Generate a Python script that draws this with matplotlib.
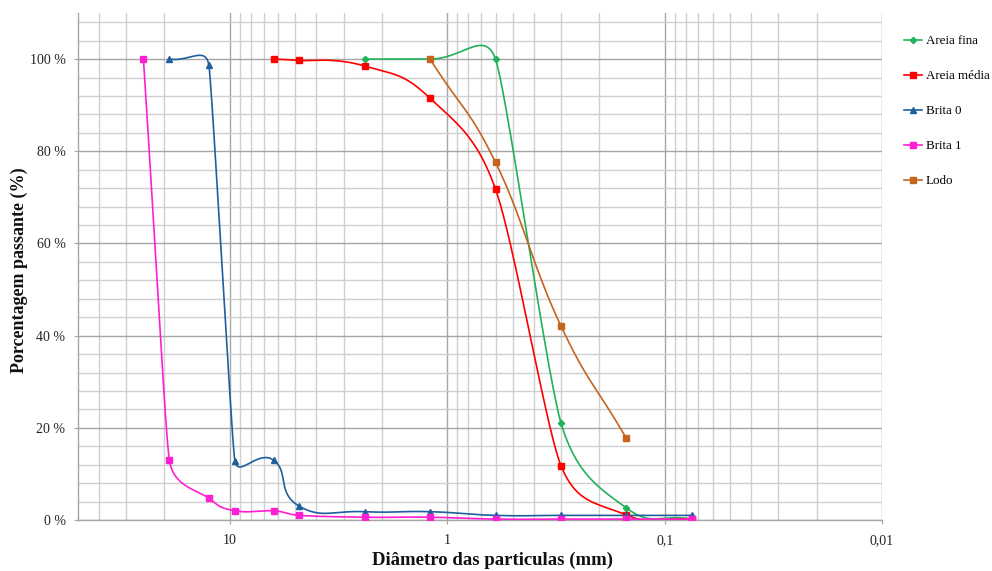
import numpy as np
import matplotlib
matplotlib.use("Agg")
import matplotlib.pyplot as plt
from matplotlib.ticker import FixedLocator, NullFormatter

# ---------------- data ----------------
sieves = [25, 19, 12.5, 9.5, 6.3, 4.8, 2.4, 1.2, 0.6, 0.3, 0.15, 0.075]

areia_fina_x = [2.4, 1.2, 0.6, 0.3, 0.15, 0.075]
areia_fina_y = [100, 100, 100, 21.1, 2.6, 0.2]

areia_media_x = [6.3, 4.8, 2.4, 1.2, 0.6, 0.3, 0.15, 0.075]
areia_media_y = [100, 99.7, 98.5, 91.5, 71.8, 11.8, 1.1, 0.2]

brita0_x = [19, 12.5, 9.5, 6.3, 4.8, 2.4, 1.2, 0.6, 0.3, 0.15, 0.075]
brita0_y = [100, 98.7, 12.9, 13.0, 3.0, 1.8, 1.8, 1.0, 1.0, 1.0, 1.0]

brita1_x = sieves
brita1_y = [100, 13.0, 4.7, 2.0, 2.0, 1.0, 0.6, 0.6, 0.2, 0.2, 0.2, 0.2]

lodo_x = [1.2, 0.6, 0.3, 0.15]
lodo_y = [100, 77.6, 42.1, 17.7]

series_names = ["Areia fina", "Areia média", "Brita 0", "Brita 1", "Lodo"]
xticks_vals = [10, 1, 0.1, 0.01]
xtick_labels = ["10", "1", "0,1", "0,01"]
yticks_vals = [0, 20, 40, 60, 80, 100]
ytick_labels = ["0 %", "20 %", "40 %", "60 %", "80 %", "100 %"]

# ---------------- figure ----------------
plt.rcParams['font.family'] = ['Liberation Serif', 'DejaVu Serif']
fig = plt.figure(figsize=(9.92, 5.71), dpi=100)
W, H = 992, 571
ax = fig.add_axes([78 / W, 1 - 520 / H, (882 - 78) / W, (520 - 13) / H])
ax.set_xscale('log')
ax.set_xlim(50, 0.01)
ax.set_ylim(0, 110)

# grid
minor_x = []
for dec in [0.01, 0.1, 1, 10]:
    for m in range(2, 10):
        v = dec * m
        if v < 50:
            minor_x.append(v)
ax.xaxis.set_major_locator(FixedLocator(xticks_vals))
ax.xaxis.set_minor_locator(FixedLocator(minor_x))
ax.set_xticks(xticks_vals)
ax.set_xticklabels(xtick_labels)
ax.xaxis.set_minor_formatter(NullFormatter())
ax.set_yticks(yticks_vals)
ax.set_yticklabels(ytick_labels)
ax.yaxis.set_minor_locator(FixedLocator([v for v in range(4, 110, 4) if v % 20 != 0]))

ax.grid(True, which='major', color='#A6A6A6', linewidth=1.0, zorder=0)
ax.grid(True, which='minor', color='#D0D0D0', linewidth=1.0, zorder=0)
ax.set_axisbelow(True)
for s in ['top', 'right']:
    ax.spines[s].set_visible(False)
for s in ['left', 'bottom']:
    ax.spines[s].set_color('#A6A6A6')
    ax.spines[s].set_linewidth(1.0)
ax.tick_params(axis='both', which='major', length=3, color='#A6A6A6',
               labelsize=10, labelcolor='#222222')
ax.tick_params(axis='x', which='major', pad=7)
ax.tick_params(axis='y', which='major', pad=6)
ax.tick_params(axis='both', which='minor', length=0)


def smooth(xs, ys, k=1.5, n=40):
    """Excel-like smoothed line through the data, built in pixel space."""
    pts = ax.transData.transform(np.column_stack([xs, ys]))
    m = len(pts)
    seglen = [np.hypot(*(pts[i + 1] - pts[i])) for i in range(m - 1)]
    tang, clen = [], []
    for i in range(m):
        a = pts[max(i - 1, 0)]
        b = pts[min(i + 1, m - 1)]
        d = b - a
        nrm = np.hypot(*d)
        tang.append(d / nrm if nrm > 0 else d)
        near = []
        if i > 0:
            near.append(seglen[i - 1])
        if i < m - 1:
            near.append(seglen[i])
        clen.append(min(near) / 3.0 * k)
    out = [pts[0]]
    t = np.linspace(0, 1, n)[1:, None]
    for i in range(m - 1):
        p0, p3 = pts[i], pts[i + 1]
        p1 = p0 + tang[i] * min(clen[i], seglen[i] / 2)
        p2 = p3 - tang[i + 1] * min(clen[i + 1], seglen[i] / 2)
        seg = ((1 - t) ** 3) * p0 + 3 * ((1 - t) ** 2) * t * p1 + \
            3 * (1 - t) * t ** 2 * p2 + t ** 3 * p3
        out.extend(seg)
    out = np.array(out)
    data = ax.transData.inverted().transform(out)
    return data[:, 0], data[:, 1]


styles = [
    (areia_fina_x, areia_fina_y, '#1FB25A', 'D', 3.2),
    (areia_media_x, areia_media_y, '#FF0000', 's', 5.0),
    (brita0_x, brita0_y, '#1F5F9E', '^', 5.0),
    (brita1_x, brita1_y, '#FF1ED2', 's', 4.5),
    (lodo_x, lodo_y, '#C6631F', 's', 4.5),
]

handles = []
for (xs, ys, col, mk, ms), name in zip(styles, series_names):
    sx, sy = smooth(xs, ys)
    ax.plot(sx, sy, color=col, linewidth=1.2, zorder=3, solid_capstyle='round')
    ax.plot(xs, ys, linestyle='none', marker=mk, color=col, markersize=ms, zorder=4)
    h, = plt.plot([], [], color=col, linewidth=1.2, marker=mk, markersize=ms)
    handles.append(h)

fig.legend(handles, series_names, loc='upper left',
           bbox_to_anchor=(904 / W, 1 - 35 / H), frameon=False,
           fontsize=9.4, labelspacing=1.75, handlelength=1.4,
           handletextpad=0.25, borderpad=0, borderaxespad=0)

fig.text(492 / W, 1 - 565 / H, "Diâmetro das particulas (mm)", ha='center',
         va='baseline', fontsize=13.5, fontweight='bold', color='#111111')
fig.text(19 / W, 1 - 270 / H, "Porcentagem passante (%)", ha='center',
         va='center', rotation=90, fontsize=13, fontweight='bold', color='#111111')

fig.savefig("out.png", dpi=100)
